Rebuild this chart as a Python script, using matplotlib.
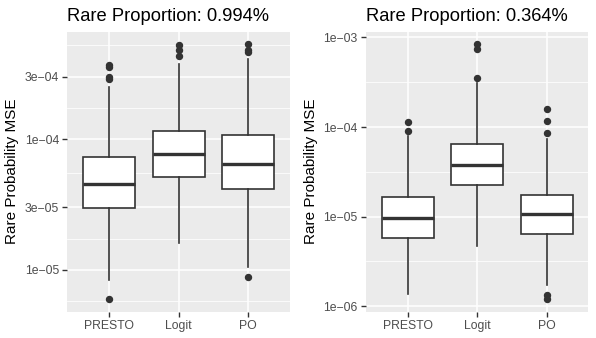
import matplotlib
matplotlib.use("Agg")
import matplotlib.pyplot as plt
import numpy as np

plt.rcParams['font.family'] = ['Liberation Sans', 'DejaVu Sans']

categories = ["PRESTO", "Logit", "PO"]

# Panel 1: Rare Proportion 0.994%
p1_title = "Rare Proportion: 0.994%"
p1_q1 = [2.97e-5, 5.10e-5, 4.16e-5]
p1_med = [4.57e-5, 7.71e-5, 6.47e-5]
p1_q3 = [7.28e-5, 1.15e-4, 1.07e-4]
p1_whislo = [8.37e-6, 1.60e-5, 1.05e-5]
p1_whishi = [2.49e-4, 3.74e-4, 4.11e-4]
p1_fliers = [[3.70e-4, 3.55e-4, 3.00e-4, 2.88e-4, 5.96e-6],
             [5.26e-4, 4.76e-4, 4.35e-4],
             [5.36e-4, 4.76e-4, 4.60e-4, 8.79e-6]]
p1_ticks = [1e-5, 3e-5, 1e-4, 3e-4]
p1_ticklabels = ["1e\u221205", "3e\u221205", "1e\u221204", "3e\u221204"]
p1_ylim = (10**-5.32, 10**-3.179)

# Panel 2: Rare Proportion 0.364%
p2_title = "Rare Proportion: 0.364%"
p2_q1 = [5.71e-6, 2.23e-5, 6.43e-6]
p2_med = [9.64e-6, 3.73e-5, 1.07e-5]
p2_q3 = [1.65e-5, 6.47e-5, 1.73e-5]
p2_whislo = [1.37e-6, 4.76e-6, 1.73e-6]
p2_whishi = [7.88e-5, 3.06e-4, 7.29e-5]
p2_fliers = [[1.14e-4, 9.03e-5],
             [8.42e-4, 7.34e-4, 3.51e-4],
             [1.59e-4, 1.17e-4, 8.67e-5, 1.34e-6, 1.20e-6]]
p2_ticks = [1e-6, 1e-5, 1e-4, 1e-3]
p2_ticklabels = ["1e\u221206", "1e\u221205", "1e\u221204", "1e\u221203"]
p2_ylim = (10**-6.06, 10**-2.937)

ylabel = "Rare Probability MSE"

W, H = 596, 338
fig = plt.figure(figsize=(W / 100, H / 100), dpi=100)

def make_panel(rect, title, q1, med, q3, wlo, whi, fliers, ticks, ticklabels, ylim):
    ax = fig.add_axes(rect)
    ax.set_facecolor("#EBEBEB")
    ax.set_yscale("log")
    ax.set_ylim(*ylim)
    ax.set_xlim(0.4, 3.6)
    # grid
    lticks = np.log10(ticks)
    step = lticks[1] - lticks[0]
    minor = []
    for i in range(len(lticks) - 1):
        minor.append((lticks[i] + lticks[i + 1]) / 2)
    minor = [lticks[0] - step / 2] + minor + [lticks[-1] + step / 2]
    lo, hi = np.log10(ylim[0]), np.log10(ylim[1])
    for m in minor:
        if lo < m < hi:
            ax.axhline(10**m, color="white", lw=0.55, zorder=0.5)
    for t in ticks:
        ax.axhline(t, color="white", lw=1.1, zorder=0.6)
    for x in range(1, len(categories) + 1):
        ax.axvline(x, color="white", lw=1.1, zorder=0.6)
    stats = []
    for i, c in enumerate(categories):
        stats.append(dict(med=med[i], q1=q1[i], q3=q3[i], whislo=wlo[i],
                          whishi=whi[i], fliers=fliers[i], label=c))
    ax.bxp(stats, positions=[1, 2, 3], widths=0.75, patch_artist=True,
           showcaps=False,
           boxprops=dict(facecolor="white", edgecolor="#333333", linewidth=1.2),
           medianprops=dict(color="#333333", linewidth=2.4, solid_capstyle="butt"),
           whiskerprops=dict(color="#333333", linewidth=1.2),
           flierprops=dict(marker="o", markerfacecolor="#333333",
                           markeredgecolor="#333333", markersize=4.3),
           zorder=2)
    ax.set_yticks(ticks)
    ax.set_yticklabels(ticklabels)
    ax.minorticks_off()
    ax.yaxis.set_minor_locator(matplotlib.ticker.NullLocator())
    ax.set_xticks([1, 2, 3])
    ax.set_xticklabels(categories)
    ax.tick_params(axis="both", colors="#333333", length=3.5, width=1.0,
                   labelsize=8.8, labelcolor="#4D4D4D", pad=2.5)
    for s in ax.spines.values():
        s.set_visible(False)
    ax.set_ylabel(ylabel, fontsize=11, color="black", labelpad=4)
    ax.set_title(title, fontsize=13.2, loc="left", pad=8, color="black")
    return ax

b = (H - 311.7) / H
h = (311.7 - 31.7) / H
make_panel([67.3 / W, b, 222.7 / W, h], p1_title, p1_q1, p1_med, p1_q3,
           p1_whislo, p1_whishi, p1_fliers, p1_ticks, p1_ticklabels, p1_ylim)
make_panel([366.0 / W, b, 222.3 / W, h], p2_title, p2_q1, p2_med, p2_q3,
           p2_whislo, p2_whishi, p2_fliers, p2_ticks, p2_ticklabels, p2_ylim)

fig.savefig("out.png", dpi=100)
